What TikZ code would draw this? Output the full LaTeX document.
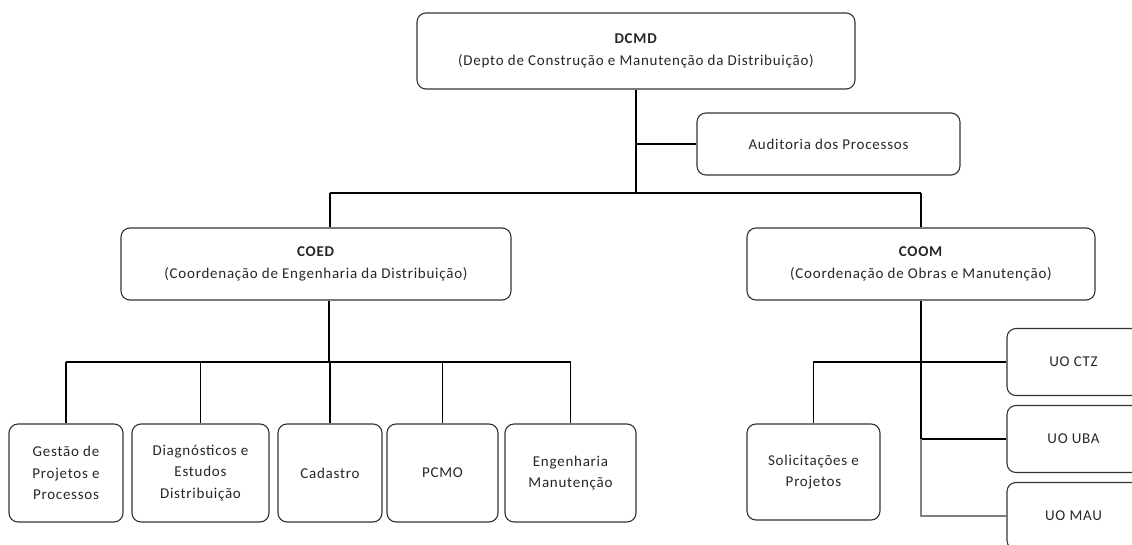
\documentclass[tikz,border=0pt]{standalone}
\usepackage{fontspec}
\setmainfont{Carlito}[LetterSpace=5]
\begin{document}
\begin{tikzpicture}[x=1pt,y=-1pt,
  box/.style={draw=black!80, line width=1.1pt, rounded corners=9pt, align=center,
    inner sep=2pt, font=\fontsize{15}{21.5}\selectfont, text=black!85},
  conn/.style={line width=1.1pt, draw=black},
  graylink/.style={line width=1.1pt, draw=black!50},
  stem/.style={line width=2.6pt, draw=black}]
\useasboundingbox (0,0) rectangle (1132,545);
\clip (0,0) rectangle (1132,545);
% top level
\node[box, minimum width=438pt, minimum height=76pt] (dcmd) at (636,51)
  {\textbf{DCMD}\\(Depto de Construção e Manutenção da Distribuição)};
\node[box, minimum width=263pt, minimum height=62pt] (aud) at (828.5,144)
  {Auditoria dos Processos};
% second level
\node[box, minimum width=390pt, minimum height=72pt] (coed) at (316,264)
  {\textbf{COED}\\(Coordenação de Engenharia da Distribuição)};
\node[box, minimum width=348pt, minimum height=72pt] (coom) at (921,264)
  {\textbf{COOM}\\(Coordenação de Obras e Manutenção)};
% COED children
\node[box, minimum width=114pt, minimum height=98pt] (b1) at (66,473)
  {Gestão de\\Projetos e\\Processos};
\node[box, minimum width=137pt, minimum height=98pt] (b2) at (200.5,473)
  {Diagnósticos e\\Estudos\\Distribuição};
\node[box, minimum width=104pt, minimum height=98pt] (b3) at (330,473)
  {Cadastro};
\node[box, minimum width=111pt, minimum height=98pt] (b4) at (442.5,473)
  {PCMO};
\node[box, minimum width=131pt, minimum height=98pt] (b5) at (570.5,473)
  {Engenharia\\Manutenção};
% COOM children
\node[box, minimum width=133pt, minimum height=96pt] (sol) at (813.5,472)
  {Solicitações e\\Projetos};
\node[box, minimum width=133pt, minimum height=67pt] (ctz) at (1073.5,362)
  {UO CTZ};
\node[box, minimum width=133pt, minimum height=67pt] (uba) at (1073.5,439)
  {UO UBA};
\node[box, minimum width=133pt, minimum height=67pt] (mau) at (1073.5,516)
  {UO MAU};
% junctions
\coordinate (j1) at (636,193);
\coordinate (ja) at (636,144);
\coordinate (jl) at (330,193);
\coordinate (jr) at (921,193);
\coordinate (jc) at (329,362);
\coordinate (jo) at (921,362);
% connectors
\draw[conn] (dcmd.south) -- (j1);
\draw[conn] (ja) -- (aud.west);
\draw[conn] (jl) -- (jr);
\draw[conn] (jl) -- (jl |- coed.north);
\draw[conn] (jr) -- (coom.north);
\draw[stem] (jc |- coed.south) -- (jc);
\draw[conn] (b1.north |- jc) -- (b5.north |- jc);
\foreach \b in {b1,b2,b3,b4,b5} \draw[conn] (\b.north) -- (\b.north |- jc);
\draw[stem] (coom.south) -- (jo);
\draw[conn] (sol.north) -- (sol.north |- jo) -- (ctz.west);
\draw[conn] (jo) -- (jo |- uba.west) -- (uba.west);
\draw[graylink] (jo |- uba.west) -- (jo |- mau.west) -- (mau.west);
\end{tikzpicture}
\end{document}
